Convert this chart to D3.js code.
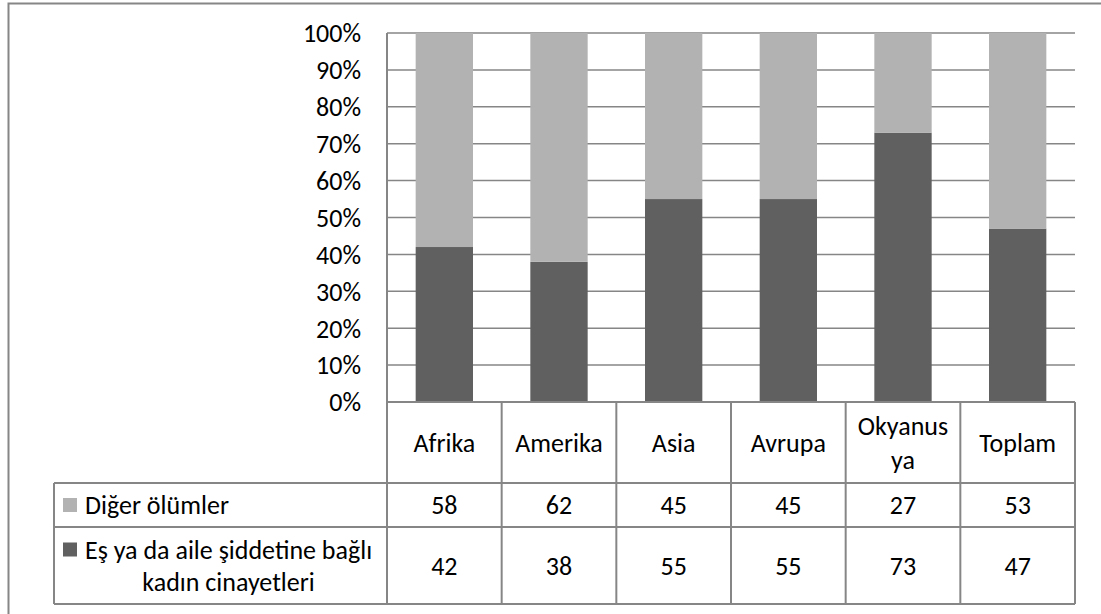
<!DOCTYPE html>
<html>
<head>
<meta charset="utf-8">
<script src="https://cdn.jsdelivr.net/npm/d3@7"></script>
<style>
  body { margin: 0; background: #fff; }
  svg { display: block; font-family: Carlito, Calibri, "Liberation Sans", sans-serif; }
</style>
</head>
<body>
<div id="chart"></div>
<script>
// chart data
const categories = ["Afrika", "Amerika", "Asia", "Avrupa", "Okyanusya", "Toplam"];
const categoryLines = [["Afrika"], ["Amerika"], ["Asia"], ["Avrupa"], ["Okyanus", "ya"], ["Toplam"]];
const violence = [42, 38, 55, 55, 73, 47];   // Eş ya da aile şiddetine bağlı kadın cinayetleri
const other = [58, 62, 45, 45, 27, 53];      // Diğer ölümler
const yTicks = [0, 10, 20, 30, 40, 50, 60, 70, 80, 90, 100];

const width = 1101, height = 614;
const gridColor = "#868686";
const dark = "#606060", light = "#b2b2b2";
const fs = "26px";

const svg = d3.select("#chart").append("svg")
    .attr("width", width)
    .attr("height", height);

// outer frame
svg.append("path")
    .attr("d", `M8.5,${height + 2} V3.5 H${width + 2}`)
    .attr("fill", "none")
    .attr("stroke", gridColor)
    .attr("stroke-width", 2);

const plotLeft = 387, plotRight = 1075, plotTop = 33, plotBottom = 402;
const tableLeft = 54, rowLines = [402, 483, 527, 604];

const x = d3.scaleBand()
    .domain(categories)
    .range([plotLeft, plotRight])
    .paddingInner(0.5)
    .paddingOuter(0.25);

const y = d3.scaleLinear()
    .domain([0, 100])
    .range([plotBottom, plotTop]);

// gridlines
svg.append("g")
    .selectAll("line")
    .data(yTicks)
    .join("line")
    .attr("x1", plotLeft)
    .attr("x2", plotRight)
    .attr("y1", d => y(d))
    .attr("y2", d => y(d))
    .attr("stroke", gridColor)
    .attr("stroke-width", 1.5);

// stacked bars
const rows = categories.map((c, i) => ({ cat: c, violence: violence[i], other: other[i] }));
const stack = d3.stack().keys(["violence", "other"])(rows);
const colors = { violence: dark, other: light };

svg.append("g")
    .selectAll("g")
    .data(stack)
    .join("g")
    .attr("fill", d => colors[d.key])
    .selectAll("rect")
    .data(d => d)
    .join("rect")
    .attr("x", d => x(d.data.cat))
    .attr("width", x.bandwidth())
    .attr("y", d => y(d[1]))
    .attr("height", d => y(d[0]) - y(d[1]));

// y axis labels
svg.append("g")
    .selectAll("text")
    .data(yTicks)
    .join("text")
    .attr("x", 361)
    .attr("y", d => y(d))
    .attr("dy", "0.36em")
    .attr("text-anchor", "end")
    .style("font-size", fs)
    .attr("fill", "#000")
    .text(d => d + "%");

// data table lines
const tbl = svg.append("g")
    .attr("stroke", gridColor)
    .attr("stroke-width", 2);

tbl.append("line")
    .attr("x1", plotLeft).attr("x2", plotLeft)
    .attr("y1", plotTop).attr("y2", rowLines[3]);

tbl.selectAll(".h")
    .data(rowLines)
    .join("line")
    .attr("class", "h")
    .attr("x1", (d, i) => i === 0 ? plotLeft : tableLeft)
    .attr("x2", plotRight)
    .attr("y1", d => d)
    .attr("y2", d => d);

const step = x.step();
tbl.selectAll(".v")
    .data(d3.range(1, categories.length + 1))
    .join("line")
    .attr("class", "v")
    .attr("x1", i => plotLeft + i * step)
    .attr("x2", i => plotLeft + i * step)
    .attr("y1", rowLines[0])
    .attr("y2", rowLines[3]);

tbl.append("line")
    .attr("x1", tableLeft).attr("x2", tableLeft)
    .attr("y1", rowLines[1]).attr("y2", rowLines[3]);

// category header
const center = c => x(c) + x.bandwidth() / 2;
const headMid = (rowLines[0] + rowLines[1]) / 2;
const head = svg.append("g")
    .attr("text-anchor", "middle")
    .style("font-size", fs);

categories.forEach((c, i) => {
    const lines = categoryLines[i];
    lines.forEach((t, j) => {
        head.append("text")
            .attr("x", center(c))
            .attr("y", headMid + (j - (lines.length - 1) / 2) * 34)
            .attr("dy", "0.36em")
            .text(t);
    });
});

// value rows
const valueRows = [
    { values: other, mid: (rowLines[1] + rowLines[2]) / 2 },
    { values: violence, mid: (rowLines[2] + rowLines[3]) / 2 }
];
valueRows.forEach(r => {
    svg.append("g")
        .attr("text-anchor", "middle")
        .style("font-size", fs)
        .selectAll("text")
        .data(categories)
        .join("text")
        .attr("x", d => center(d))
        .attr("y", r.mid)
        .attr("dy", "0.36em")
        .text((d, i) => r.values[i]);
});

// row labels with legend keys
const keyX = 63, labelX = 85;
const row1 = (rowLines[1] + rowLines[2]) / 2;
svg.append("rect")
    .attr("x", keyX).attr("y", row1 - 7)
    .attr("width", 14).attr("height", 14)
    .attr("fill", light);
svg.append("text")
    .attr("x", labelX).attr("y", row1)
    .attr("dy", "0.36em")
    .style("font-size", fs)
    .text("Diğer ölümler");

const row2 = (rowLines[2] + rowLines[3]) / 2;
svg.append("rect")
    .attr("x", keyX).attr("y", row2 - 16 - 7)
    .attr("width", 14).attr("height", 14)
    .attr("fill", dark);
const first = svg.append("text")
    .attr("x", labelX).attr("y", row2 - 16)
    .attr("dy", "0.36em")
    .style("font-size", fs)
    .text("Eş ya da aile şiddetine bağlı");
const w = first.node().getComputedTextLength();
svg.append("text")
    .attr("x", labelX + w / 2)
    .attr("y", row2 + 16)
    .attr("dy", "0.36em")
    .attr("text-anchor", "middle")
    .style("font-size", fs)
    .text("kadın cinayetleri");
</script>
</body>
</html>
